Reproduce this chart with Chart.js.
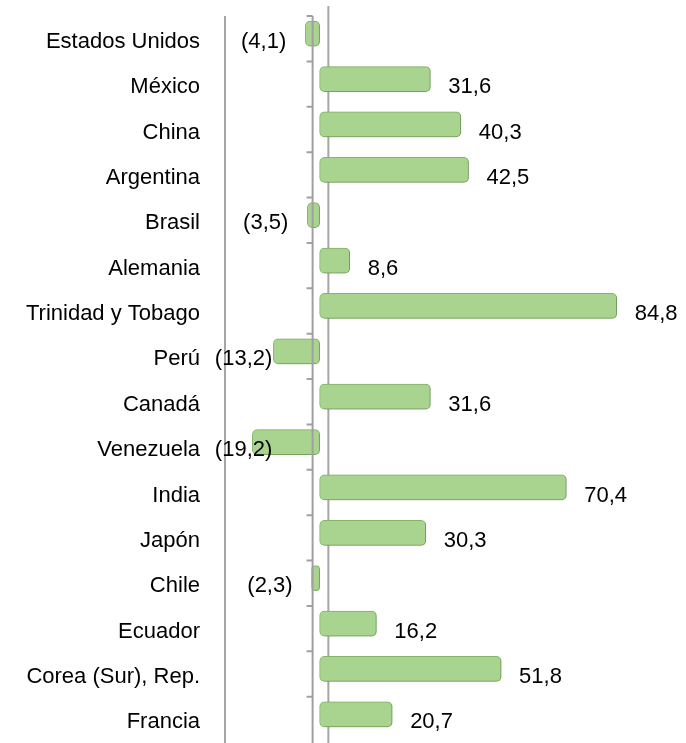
<!DOCTYPE html>
<html>
<head>
<meta charset="utf-8">
<script src="https://cdn.jsdelivr.net/npm/chart.js@4.4.0/dist/chart.umd.min.js"></script>
<style>
  html, body { margin: 0; padding: 0; background: #fff; }
  #wrap { width: 686px; height: 743px; }
</style>
</head>
<body>
<div id="wrap"><canvas id="chart"></canvas></div>
<script>
const countries = [
    'Estados Unidos', 'México', 'China', 'Argentina', 'Brasil', 'Alemania',
    'Trinidad y Tobago', 'Perú', 'Canadá', 'Venezuela', 'India', 'Japón',
    'Chile', 'Ecuador', 'Corea (Sur), Rep.', 'Francia'
];
const growth = [-4.1, 31.6, 40.3, 42.5, -3.5, 8.6, 84.8, -13.2, 31.6, -19.2, 70.4, 30.3, -2.3, 16.2, 51.8, 20.7];
const xMin = -27;
const xMax = 100;

const FONT = '"Liberation Sans", Arial, sans-serif';

function fmt(v) {
    const s = Math.abs(v).toFixed(1).replace('.', ',');
    return v < 0 ? '(' + s + ')' : s;
}

// gray lines of the 3D frame + value labels
const frameLines = {
    id: 'frameLines',
    beforeDatasetsDraw(chart) {
        const {ctx, chartArea, scales: {x}} = chart;
        ctx.save();
        ctx.strokeStyle = '#a6a6a6';
        ctx.lineWidth = 2;
        ctx.beginPath();
        ctx.moveTo(chartArea.left, chartArea.top + 5);
        ctx.lineTo(chartArea.left, chart.height);
        const bx = x.getPixelForValue(2.5);
        ctx.moveTo(bx, chartArea.top - 5);
        ctx.lineTo(bx, chart.height);
        ctx.stroke();
        ctx.restore();
    },
    beforeDatasetDraw(chart) {
        const ctx = chart.ctx;
        ctx.save();
        ctx.shadowColor = 'rgba(60, 90, 40, 0.35)';
        ctx.shadowBlur = 3;
        ctx.shadowOffsetX = 2;
        ctx.shadowOffsetY = 1;
    },
    afterDatasetDraw(chart) {
        chart.ctx.restore();
    },
    afterDatasetsDraw(chart) {
        const {ctx, chartArea, scales: {x}} = chart;
        const ax = x.getPixelForValue(-2);
        const step = (chartArea.bottom - chartArea.top) / countries.length;
        ctx.save();
        ctx.strokeStyle = '#a0a0a0';
        ctx.lineWidth = 2;
        ctx.beginPath();
        ctx.moveTo(ax, chartArea.top + 5);
        ctx.lineTo(ax, chart.height);
        for (let k = 0; k < countries.length; k++) {
            const yy = chartArea.top + 5 + k * step;
            ctx.moveTo(ax - 6, yy);
            ctx.lineTo(ax, yy);
        }
        ctx.stroke();

        ctx.fillStyle = '#000';
        ctx.font = '22px ' + FONT;
        ctx.textBaseline = 'middle';
        chart.getDatasetMeta(0).data.forEach((bar, i) => {
            const v = growth[i];
            if (v >= 0) {
                ctx.textAlign = 'left';
                ctx.fillText(fmt(v), bar.x + 18, bar.y + 8);
            } else {
                ctx.textAlign = 'right';
                const right = Math.max(bar.x - 19, x.getPixelForValue(-13.5));
                ctx.fillText(fmt(v), right, bar.y + 8);
            }
        });
        ctx.restore();
    }
};

new Chart(document.getElementById('chart'), {
    type: 'bar',
    data: {
        labels: countries,
        datasets: [{
            data: growth,
            backgroundColor: '#a9d48f',
            borderColor: '#88b96c',
            borderWidth: 1,
            borderRadius: 5,
            borderSkipped: false,
            barThickness: 25
        }]
    },
    plugins: [frameLines],
    options: {
        indexAxis: 'y',
        responsive: true,
        maintainAspectRatio: false,
        animation: false,
        layout: {
            padding: {top: 11, right: 16, bottom: 6, left: 0}
        },
        plugins: {
            legend: {display: false},
            tooltip: {enabled: false}
        },
        scales: {
            x: {
                display: false,
                min: xMin,
                max: xMax
            },
            y: {
                grid: {display: false, drawTicks: false},
                border: {display: false},
                ticks: {
                    color: '#000',
                    font: {size: 22, family: FONT},
                    padding: 25,
                    labelOffset: 8
                },
                afterFit(scale) {
                    scale.width = 225;
                    scale.paddingTop = 0;
                    scale.paddingBottom = 0;
                }
            }
        }
    }
});
</script>
</body>
</html>
